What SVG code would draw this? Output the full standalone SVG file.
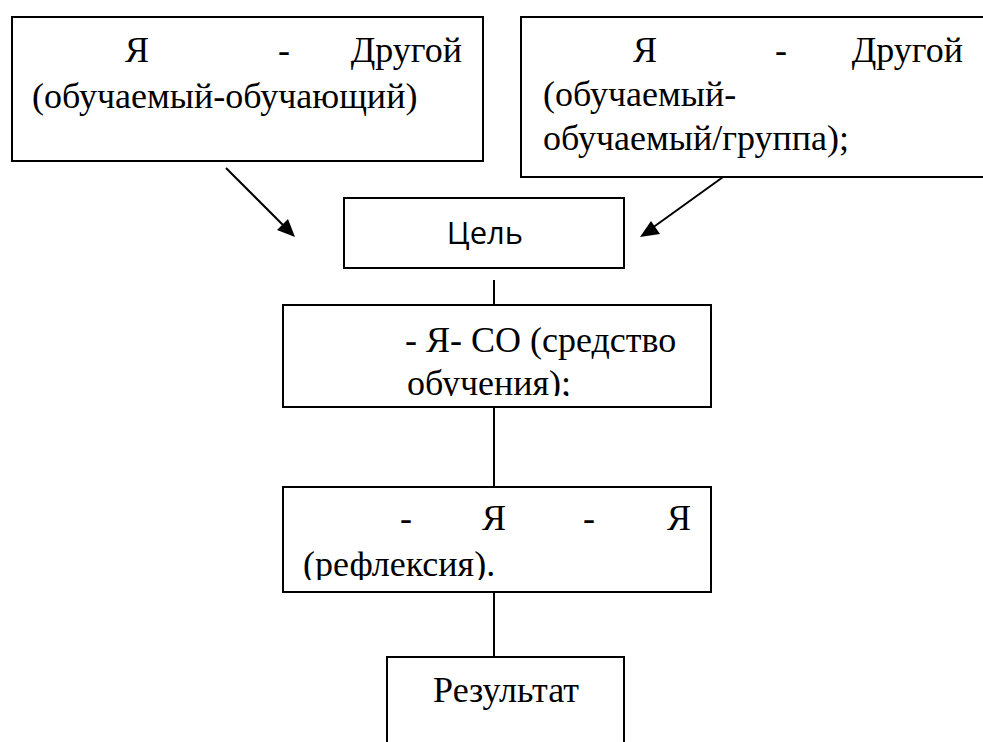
<svg xmlns="http://www.w3.org/2000/svg" width="983" height="742" viewBox="0 0 983 742">
<defs>
<clipPath id="c3"><rect x="283" y="305" width="428" height="91"/></clipPath>
<clipPath id="c4"><rect x="283" y="487" width="428" height="93"/></clipPath>
</defs>
<g id="connectors" stroke="#000" stroke-width="2" fill="none">
<line x1="226" y1="168" x2="288" y2="230"/>
<line x1="730" y1="172" x2="648" y2="231"/>
<line x1="494" y1="280" x2="494" y2="305"/>
<line x1="494" y1="407" x2="494" y2="487"/>
<line x1="494" y1="592" x2="494" y2="657"/>
<path d="M295,237 L277,230 L288,219 z" fill="#000" stroke="none"/>
<path d="M640,237 L651,221 L660,234 z" fill="#000" stroke="none"/>
</g>
<g id="nodes" font-family="Liberation Serif" font-size="36" fill="#000">
<g id="node1">
<rect x="12" y="17" width="471" height="144" fill="#fff" stroke="#000" stroke-width="2"/>
<text x="125" y="62" font-family="Liberation Serif">Я</text>
<text x="278" y="62" font-family="Liberation Serif">-</text>
<text x="462" y="62" text-anchor="end" font-family="Liberation Serif">Другой</text>
<text x="32" y="108" font-family="Liberation Serif">(обучаемый-обучающий)</text>
</g>
<g id="node2">
<rect x="521" y="17" width="480" height="160" fill="#fff" stroke="#000" stroke-width="2"/>
<text x="633" y="62" font-family="Liberation Serif">Я</text>
<text x="775" y="62" font-family="Liberation Serif">-</text>
<text x="963" y="62" text-anchor="end" font-family="Liberation Serif">Другой</text>
<text x="543" y="106" font-family="Liberation Serif">(обучаемый-</text>
<text x="543" y="150" font-family="Liberation Serif">обучаемый/группа);</text>
</g>
<g id="node-goal">
<rect x="344" y="198" width="280" height="70" fill="#fff" stroke="#000" stroke-width="2"/>
<text x="485" y="244" text-anchor="middle" font-family="Open Sans" font-size="31">Цель</text>
</g>
<g id="node3">
<rect x="283" y="305" width="428" height="102" fill="#fff" stroke="#000" stroke-width="2"/>
<g clip-path="url(#c3)">
<text x="405" y="352" font-family="Liberation Serif">- Я- СО (средство</text>
<text x="407" y="395" font-family="Liberation Serif">обучения);</text>
</g>
</g>
<g id="node4">
<rect x="283" y="487" width="428" height="105" fill="#fff" stroke="#000" stroke-width="2"/>
<g clip-path="url(#c4)">
<text x="400" y="530" font-family="Liberation Serif">-</text>
<text x="482" y="530" font-family="Liberation Serif">Я</text>
<text x="583" y="530" font-family="Liberation Serif">-</text>
<text x="667" y="530" font-family="Liberation Serif">Я</text>
<text x="303" y="576" font-family="Liberation Serif">(рефлексия).</text>
</g>
</g>
<g id="node5">
<rect x="387" y="657" width="237" height="100" fill="#fff" stroke="#000" stroke-width="2"/>
<text x="506" y="702" text-anchor="middle" font-family="Liberation Serif">Результат</text>
</g>
</g>
</svg>
